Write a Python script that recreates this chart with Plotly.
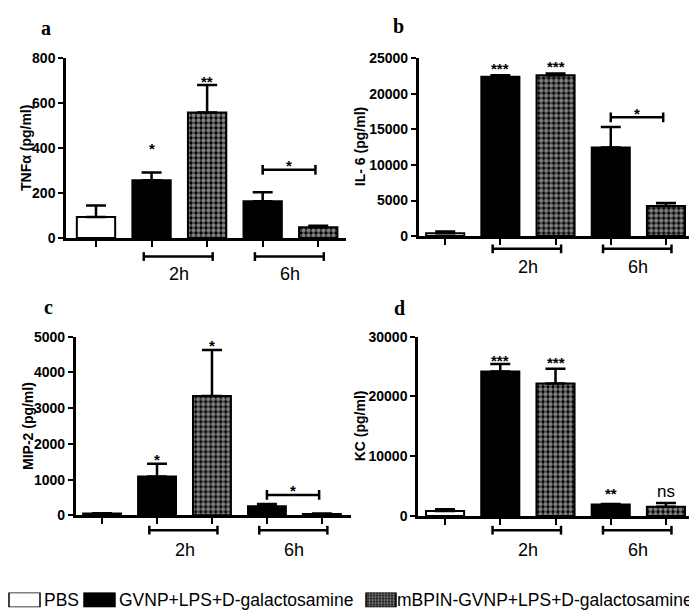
import plotly.graph_objects as go

W, H = 697, 613
SANS = "Liberation Sans"

# ---------------- data ----------------
CATEGORIES = ["PBS", "GVNP 2h", "mBPIN 2h", "GVNP 6h", "mBPIN 6h"]
GROUP_LABELS = ["2h", "6h"]
LEGEND_LABELS = ["PBS", "GVNP+LPS+D-galactosamine", "mBPIN-GVNP+LPS+D-galactosamine"]

TNF_MEAN = [94, 257, 558, 163, 48]
TNF_ERR = [51, 34, 122, 40, 7]
TNF_STARS = ["", "*", "**", "", ""]
TNF_TICKS = [0, 200, 400, 600, 800]

IL6_MEAN = [400, 22400, 22600, 12450, 4240]
IL6_ERR = [250, 200, 250, 2880, 410]
IL6_STARS = ["", "***", "***", "", ""]
IL6_TICKS = [0, 5000, 10000, 15000, 20000, 25000]

MIP2_MEAN = [50, 1090, 3340, 256, 40]
MIP2_ERR = [10, 350, 1290, 63, 10]
MIP2_STARS = ["", "*", "*", "", ""]
MIP2_TICKS = [0, 1000, 2000, 3000, 4000, 5000]

KC_MEAN = [815, 24190, 22185, 1900, 1520]
KC_ERR = [285, 1260, 2445, 100, 650]
KC_STARS = ["", "***", "***", "**", "ns"]
KC_TICKS = [0, 10000, 20000, 30000]

# 6h comparison bracket (star, bracket level in data units)
TNF_CMP = ("*", 303)
IL6_CMP = ("*", 16690)
MIP2_CMP = ("*", 572)
KC_CMP = None

# ---------------- styles ----------------
FILL = ["white", "black", "black", "black", "black"]
PATTERN = ["", "", ".", "", "."]
PAT = dict(fgcolor="white", bgcolor="black", size=5, solidity=0.6)

panels = [
    dict(letter="a", title="TNFα (pg/ml)", mean=TNF_MEAN, err=TNF_ERR, stars=TNF_STARS,
         ticks=TNF_TICKS, cmp=TNF_CMP, x0=58, x1=338, ytop=43, ybot=228,
         xr=[-0.54, 4.5], title_x=18, letter_xy=(38, 12), below_y=247, label_y=265,
         star_gap=[0, 28, 7, 0, 0]),
    dict(letter="b", title="IL- 6 (pg/ml)", mean=IL6_MEAN, err=IL6_ERR, stars=IL6_STARS,
         ticks=IL6_TICKS, cmp=IL6_CMP, x0=410.7, x1=685, ytop=43.3, ybot=226,
         xr=[-0.48, 4.49], title_x=352, letter_xy=(390, 10), below_y=239, label_y=258,
         star_gap=[0, 11, 11, 0, 0]),
    dict(letter="c", title="MIP-2 (pg/ml)", mean=MIP2_MEAN, err=MIP2_ERR, stars=MIP2_STARS,
         ticks=MIP2_TICKS, cmp=MIP2_CMP, x0=67.7, x1=343, ytop=329.3, ybot=512.7,
         xr=[-0.48, 4.53], title_x=20, letter_xy=(40, 299), below_y=528, label_y=548,
         star_gap=[0, 8, 8, 0, 0]),
    dict(letter="d", title="KC (pg/ml)", mean=KC_MEAN, err=KC_ERR, stars=KC_STARS,
         ticks=KC_TICKS, cmp=KC_CMP, x0=410, x1=685, ytop=329.3, ybot=513.3,
         xr=[-0.49, 4.49], title_x=352, letter_xy=(391, 300), below_y=528, label_y=548,
         star_gap=[0, 7, 10, 14, 6]),
]


def pxx(p):
    return p / W


def pyy(p):
    return 1 - p / H


fig = go.Figure()
shapes = []
annotations = []
layout_axes = {}
xcat = list(range(len(CATEGORIES)))

for i, p in enumerate(panels, start=1):
    xa, ya = f"x{i}", f"y{i}"
    ymax = p["ticks"][-1]
    fig.add_trace(go.Bar(
        x=xcat, y=p["mean"], width=0.69,
        xaxis=xa, yaxis=ya, hovertext=CATEGORIES,
        marker=dict(color=FILL, line=dict(color="black", width=2),
                    pattern=dict(shape=PATTERN, **PAT)),
        error_y=dict(type="data", symmetric=False, array=p["err"],
                     arrayminus=[0] * len(p["err"]), color="black",
                     thickness=2.5, width=10),
    ))
    layout_axes[f"xaxis{i}"] = dict(
        domain=[pxx(p["x0"]), pxx(p["x1"])], range=p["xr"], anchor=ya,
        showline=True, linewidth=2.5, linecolor="black", ticks="outside",
        ticklen=6, tickwidth=2, tickcolor="black", tickvals=xcat,
        showticklabels=False, showgrid=False, zeroline=False, fixedrange=True)
    layout_axes[f"yaxis{i}"] = dict(
        domain=[pyy(p["ybot"]), pyy(p["ytop"])], range=[0, ymax], anchor=xa,
        showline=True, linewidth=2.5, linecolor="black", ticks="outside",
        ticklen=5, tickwidth=2, tickcolor="black", tickvals=p["ticks"],
        ticktext=[str(t) for t in p["ticks"]],
        tickfont=dict(family=SANS, size=14, color="black", weight="bold"),
        showgrid=False, zeroline=False, fixedrange=True)

    y0p, y1p = pyy(p["ybot"]), pyy(p["ytop"])

    def to_paper(v, y0p=y0p, y1p=y1p, ymax=ymax):
        return y0p + v / ymax * (y1p - y0p)

    # stars above bars
    for k, s in enumerate(p["stars"]):
        if not s:
            continue
        top = p["mean"][k] + p["err"][k]
        if s == "ns":
            annotations.append(dict(x=k, y=top, xref=xa, yref=ya, text="ns",
                                    showarrow=False, yanchor="bottom",
                                    yshift=p["star_gap"][k] - 6,
                                    font=dict(family=SANS, size=17, color="black")))
        else:
            annotations.append(dict(x=k, y=top, xref=xa, yref=ya, text=s,
                                    showarrow=False, yanchor="middle",
                                    yshift=p["star_gap"][k] - 4,
                                    font=dict(family=SANS, size=15, color="black",
                                              weight="bold")))

    # comparison bracket between 6h bars
    if p["cmp"]:
        star, lvl = p["cmp"]
        yb = to_paper(lvl)
        cap = 5 / H
        xa0, xa1 = 3.0, 3.95
        shapes.append(dict(type="line", xref=xa, yref="paper", x0=xa0, x1=xa1,
                           y0=yb, y1=yb, line=dict(color="black", width=2.5)))
        for xx in (xa0, xa1):
            shapes.append(dict(type="line", xref=xa, yref="paper", x0=xx, x1=xx,
                               y0=yb - cap, y1=yb + cap,
                               line=dict(color="black", width=2.5)))
        annotations.append(dict(x=(xa0 + xa1) / 2, y=yb, xref=xa, yref="paper",
                                text=star, showarrow=False, yanchor="middle",
                                yshift=8 - 4,
                                font=dict(family=SANS, size=15, color="black",
                                          weight="bold")))

    # group brackets under the axis
    for g, (c1, c2) in enumerate([(1, 2), (3, 4)]):
        yb = pyy(p["below_y"])
        cap = 4.5 / H
        bx0, bx1 = c1 - 0.14, c2 + 0.1
        shapes.append(dict(type="line", xref=xa, yref="paper", x0=bx0, x1=bx1,
                           y0=yb, y1=yb, line=dict(color="black", width=2.5)))
        for xx in (bx0, bx1):
            shapes.append(dict(type="line", xref=xa, yref="paper", x0=xx, x1=xx,
                               y0=yb - cap, y1=yb + cap,
                               line=dict(color="black", width=2.5)))
        annotations.append(dict(x=(c1 + c2) / 2, y=pyy(p["label_y"]), xref=xa,
                                yref="paper", text=GROUP_LABELS[g], showarrow=False,
                                yanchor="middle",
                                font=dict(family=SANS, size=18, color="black")))

    # axis title
    annotations.append(dict(x=pxx(p["title_x"]), y=(y0p + y1p) / 2, xref="paper",
                            yref="paper", text=p["title"], textangle=-90,
                            showarrow=False, xanchor="center", yanchor="middle",
                            font=dict(family=SANS, size=14, color="black",
                                      weight="bold")))
    # panel letter
    lx, ly = p["letter_xy"]
    annotations.append(dict(x=pxx(lx), y=pyy(ly), xref="paper", yref="paper",
                            text=f"<b>{p['letter']}</b>", showarrow=False,
                            xanchor="center", yanchor="middle",
                            font=dict(family="Liberation Serif", size=20,
                                      color="black")))

# ---------------- custom legend ----------------
sw_centers = [16.5, 91.5, 373]
sw_widths = [31, 31, 30]
text_left = [34, 109, 387]
fig.add_trace(go.Bar(
    x=sw_centers, y=[1, 1, 1], width=sw_widths, xaxis="x5", yaxis="y5",
    hoverinfo="skip",
    marker=dict(color=["white", "black", "black"], line=dict(color="black", width=1.5),
                pattern=dict(shape=["", "", "."], fgcolor="white", bgcolor="black",
                             size=3, solidity=0.6)),
))
layout_axes["xaxis5"] = dict(domain=[0, 1], range=[0, W], visible=False,
                             anchor="y5", fixedrange=True)
layout_axes["yaxis5"] = dict(domain=[pyy(607), pyy(592)], range=[0, 1],
                             visible=False, anchor="x5", fixedrange=True)
for lbl, tl in zip(LEGEND_LABELS, text_left):
    annotations.append(dict(x=pxx(tl), y=pyy(600), xref="paper", yref="paper",
                            text=lbl, showarrow=False, xanchor="left",
                            yanchor="middle",
                            font=dict(family=SANS, size=17.5, color="black")))

fig.update_layout(
    width=W, height=H, margin=dict(l=0, r=0, t=0, b=0),
    paper_bgcolor="white", plot_bgcolor="white", showlegend=False,
    font=dict(family=SANS, color="black"),
    shapes=shapes, annotations=annotations, **layout_axes,
)

fig.write_html("out.html")
